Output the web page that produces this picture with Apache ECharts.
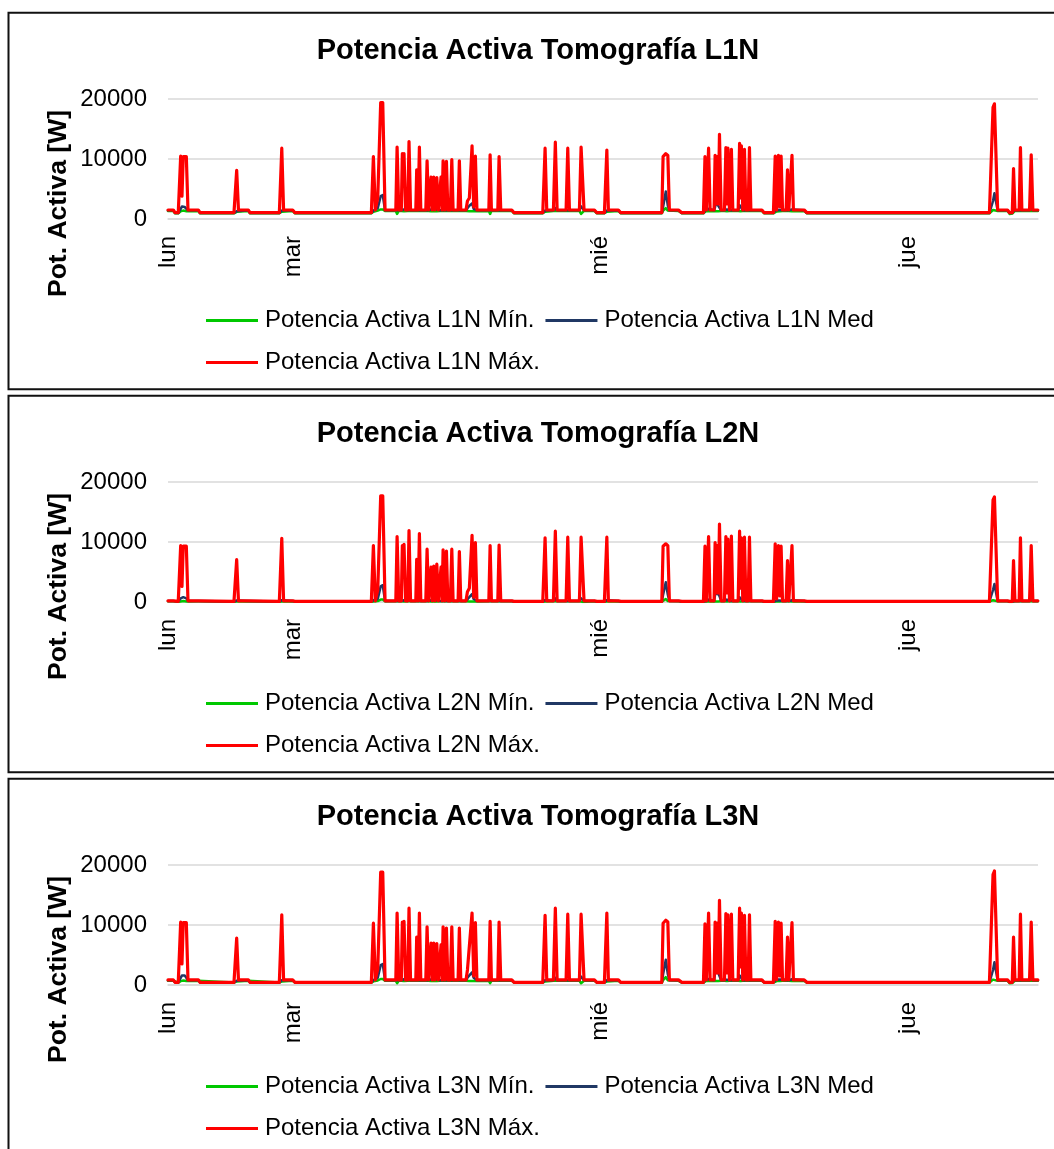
<!DOCTYPE html>
<html>
<head>
<meta charset="utf-8">
<script src="https://cdn.jsdelivr.net/npm/echarts@6/dist/echarts.min.js"></script>
<style>
  html, body { margin: 0; padding: 0; background: #fff; }
  #chart { width: 1054px; height: 1149px; }
</style>
</head>
<body>
<div id="chart"></div>
<script>
// Sample times, in hours counted from Monday 00:00 (shared by every series)
const times = [
  14.25, 14.66, 14.80, 15.05, 15.24, 15.34, 15.44, 15.55, 15.68, 15.81,
  16.62, 16.75, 19.40, 19.61, 19.75, 20.52, 20.65, 22.94, 23.13, 23.27,
  23.98, 24.16, 30.12, 30.28, 30.43, 30.62, 30.85, 31.01, 31.19, 32.03,
  32.13, 32.26, 32.46, 32.54, 32.61, 32.67, 32.79, 32.96, 33.06, 33.18,
  33.59, 33.66, 33.77, 33.87, 33.98, 34.37, 34.47, 34.59, 34.70, 34.78,
  34.88, 34.99, 35.09, 35.23, 35.35, 35.48, 35.56, 35.64, 35.72, 35.85,
  35.98, 36.09, 36.29, 36.40, 36.50, 36.89, 36.99, 37.10, 37.51, 37.62,
  37.77, 37.98, 38.11, 38.24, 38.36, 39.29, 39.39, 39.49, 39.99, 40.09,
  40.22, 41.08, 41.26, 41.57, 41.68, 41.81, 42.98, 43.07, 43.17, 43.50,
  43.68, 43.81, 44.33, 44.48, 44.62, 45.32, 45.45, 45.58, 46.36, 46.49,
  46.59, 46.72, 47.53, 47.72, 48.31, 48.50, 48.62, 49.40, 49.59, 52.79,
  52.89, 53.10, 53.26, 53.38, 54.09, 54.35, 56.04, 56.16, 56.27, 56.44,
  56.56, 56.87, 56.95, 57.03, 57.11, 57.20, 57.29, 57.42, 57.68, 57.79,
  57.87, 57.95, 58.07, 58.12, 58.22, 58.33, 58.75, 58.86, 58.93, 59.00,
  59.11, 59.16, 59.24, 59.35, 59.53, 59.63, 59.74, 60.60, 60.78, 61.50,
  61.64, 61.75, 61.89, 62.00, 62.10, 62.21, 62.49, 62.60, 62.70, 62.83,
  62.95, 63.06, 63.90, 64.11, 78.36, 78.64, 78.75, 79.00, 79.77, 79.93,
  80.14, 80.24, 80.35, 80.68, 80.78, 80.89, 81.49, 81.62, 81.75, 82.14
];

// Day labels on the time axis
const dayTicks = [14.25, 24, 48, 72];
const dayLabels = ['lun', 'mar', 'mié', 'jue'];
const timeRange = [14.25, 82.15];

// Power axis [W]
const powerMax = 20000;
const powerStep = 10000;

// ---- Phase L1N ----
const maxL1N = [
  1500, 1500, 1050, 1050, 10500, 3800, 10400, 10200, 10400, 1500,
  1500, 1050, 1050, 8100, 1500, 1500, 1050, 1050, 11800, 1500,
  1500, 1050, 1050, 10400, 1500, 3500, 19400, 19400, 1500, 1500,
  12000, 1500, 1500, 10900, 8000, 10900, 1500, 1500, 12900, 1500,
  1500, 8200, 1500, 12000, 1500, 1500, 9700, 1500, 1500, 7000,
  1500, 7000, 1500, 6900, 1500, 1500, 7000, 1500, 9700, 1500,
  9600, 1500, 1500, 9900, 1500, 1500, 9700, 1500, 1500, 3000,
  3500, 12200, 2000, 10500, 1500, 1500, 10700, 1500, 1500, 10400,
  1500, 1500, 1050, 1050, 1050, 1050, 1050, 1050, 1050, 1050,
  11800, 1500, 1500, 12800, 1500, 1500, 11800, 1500, 1500, 12000,
  12000, 1500, 1500, 1050, 1050, 11500, 1500, 1500, 1050, 1050,
  10400, 10900, 10600, 1500, 1500, 1050, 1050, 10400, 1500, 11800,
  1500, 1500, 10600, 2500, 10400, 2500, 14100, 1500, 1500, 11900,
  2500, 11800, 1500, 1500, 11600, 1500, 1500, 12600, 3500, 12200,
  1500, 1500, 11600, 1500, 1500, 11900, 1500, 1500, 1050, 1050,
  10500, 1500, 10600, 2000, 10500, 1500, 1500, 8200, 1500, 1500,
  10600, 1500, 1500, 1050, 1050, 18600, 19200, 1500, 1500, 1050,
  1050, 8400, 1500, 1500, 11900, 1500, 1500, 10700, 1500, 1500
];
const medL1N = [
  1450, 1450, 1000, 1000, 1700, 2100, 2100, 2000, 1700, 1450,
  1450, 1000, 1000, 1300, 1450, 1450, 1000, 1000, 1400, 1450,
  1450, 1000, 1000, 1400, 1450, 1800, 3800, 4000, 1450, 1450,
  1600, 1450, 1450, 1600, 1500, 1600, 1450, 1450, 2200, 1450,
  1450, 1500, 1450, 1600, 1450, 1450, 1600, 1450, 1450, 1600,
  1450, 1600, 1450, 1600, 1450, 1450, 1600, 1450, 1600, 1450,
  1600, 1450, 1450, 1600, 1450, 1450, 1600, 1450, 1450, 1800,
  2200, 2600, 1700, 1700, 1450, 1450, 1600, 1450, 1450, 1600,
  1450, 1450, 1000, 1000, 1000, 1000, 1000, 1000, 1000, 1000,
  1400, 1450, 1450, 1800, 1450, 1450, 1600, 1450, 1450, 2100,
  2100, 1450, 1450, 1000, 1000, 1400, 1450, 1450, 1000, 1000,
  2000, 4600, 2200, 1450, 1450, 1000, 1000, 1400, 1450, 1700,
  1450, 1450, 2000, 2900, 2900, 2200, 2000, 1450, 1450, 1700,
  1600, 1700, 1450, 1450, 1600, 1450, 1450, 2300, 2500, 2300,
  1450, 1450, 1600, 1450, 1450, 1600, 1450, 1450, 1000, 1000,
  1400, 1300, 1500, 1400, 1500, 1450, 1450, 1500, 1450, 1450,
  1600, 1450, 1450, 1000, 1000, 3000, 4300, 1450, 1450, 1000,
  1000, 1400, 1450, 1450, 1600, 1450, 1450, 2200, 1450, 1450
];
const minL1N = [
  1350, 1350, 950, 950, 1300, 1400, 1400, 1400, 1300, 1350,
  1350, 950, 950, 1200, 1350, 1350, 950, 950, 1200, 1350,
  1350, 950, 950, 1200, 1350, 1400, 1600, 1600, 1350, 1350,
  850, 1350, 1350, 1300, 1300, 1300, 1350, 1350, 1300, 1350,
  1350, 1300, 1350, 1300, 1350, 1350, 1300, 1350, 1350, 1300,
  1350, 1300, 1350, 1300, 1350, 1350, 1300, 1350, 1300, 1350,
  1300, 1350, 1350, 1300, 1350, 1350, 1300, 1350, 1350, 1300,
  1300, 1300, 1300, 1300, 1350, 1350, 850, 1350, 1350, 1300,
  1350, 1350, 950, 950, 950, 950, 950, 950, 950, 950,
  1200, 1350, 1350, 1300, 1350, 1350, 1300, 1350, 1350, 850,
  900, 1350, 1350, 950, 950, 1200, 1350, 1350, 950, 950,
  1400, 1800, 1400, 1350, 1350, 950, 950, 1200, 1350, 1300,
  1350, 1350, 1300, 1300, 1300, 1300, 1300, 1350, 1350, 1300,
  1300, 1300, 1350, 1350, 1300, 1350, 1350, 1300, 1300, 1300,
  1350, 1350, 1300, 1350, 1350, 1300, 1350, 1350, 950, 950,
  1200, 1250, 1300, 1300, 1300, 1350, 1350, 1300, 1350, 1350,
  1300, 1350, 1350, 950, 950, 1500, 1600, 1350, 1350, 850,
  900, 1200, 1350, 1350, 1300, 1350, 1350, 1300, 1350, 1350
];

// ---- Phase L2N ----
const maxL2N = [
  200, 200, 100, 100, 9400, 2600, 9300, 9200, 9300, 200,
  200, 100, 100, 7050, 200, 200, 100, 100, 10600, 200,
  200, 100, 100, 9400, 200, 2000, 17700, 17700, 200, 200,
  10900, 200, 200, 9400, 7000, 9600, 200, 200, 11900, 200,
  200, 7100, 200, 11400, 200, 200, 8800, 200, 200, 5800,
  200, 6000, 200, 6300, 200, 200, 5800, 200, 8700, 200,
  8500, 200, 200, 8800, 200, 200, 8400, 200, 200, 1700,
  2300, 11100, 800, 9900, 200, 200, 9400, 200, 200, 9500,
  200, 200, 100, 100, 400, 100, 100, 300, 100, 100,
  10700, 200, 200, 11800, 200, 200, 10800, 200, 200, 10800,
  10800, 200, 200, 100, 100, 10800, 200, 200, 100, 100,
  9300, 9700, 9400, 200, 200, 100, 100, 9300, 200, 10900,
  200, 200, 9900, 1500, 9400, 1500, 13000, 200, 200, 10900,
  1500, 10500, 200, 200, 11000, 200, 200, 11800, 2300, 10700,
  200, 200, 10800, 200, 200, 10800, 200, 200, 100, 100,
  9700, 500, 9400, 1000, 9300, 200, 200, 6900, 200, 200,
  9400, 200, 200, 100, 100, 17000, 17500, 200, 200, 100,
  100, 6900, 200, 200, 10700, 200, 200, 9400, 200, 200
];
const medL2N = [
  180, 180, 90, 90, 600, 800, 800, 800, 600, 180,
  180, 90, 90, 250, 180, 180, 90, 90, 300, 180,
  180, 90, 90, 300, 180, 500, 2600, 2800, 180, 180,
  300, 180, 180, 300, 250, 300, 180, 180, 1000, 180,
  180, 250, 180, 300, 180, 180, 300, 180, 180, 300,
  180, 300, 180, 300, 180, 180, 300, 180, 300, 180,
  300, 180, 180, 300, 180, 180, 300, 180, 180, 500,
  800, 1300, 500, 500, 180, 180, 300, 180, 180, 300,
  180, 180, 90, 90, 200, 90, 90, 150, 90, 90,
  300, 180, 180, 600, 180, 180, 300, 180, 180, 600,
  600, 180, 180, 90, 90, 300, 180, 180, 90, 90,
  1200, 3300, 1200, 180, 180, 90, 90, 300, 180, 400,
  180, 180, 1200, 1500, 1500, 1200, 1000, 180, 180, 400,
  400, 400, 180, 180, 300, 180, 180, 800, 900, 800,
  180, 180, 300, 180, 180, 300, 180, 180, 90, 90,
  300, 250, 300, 250, 300, 180, 180, 300, 180, 180,
  300, 180, 180, 90, 90, 2000, 3000, 180, 180, 90,
  90, 300, 180, 180, 400, 180, 180, 1500, 180, 180
];
const minL2N = [
  120, 120, 60, 60, 100, 150, 150, 150, 100, 120,
  120, 60, 60, 80, 120, 120, 60, 60, 80, 120,
  120, 60, 60, 80, 120, 150, 400, 400, 120, 120,
  0, 120, 120, 100, 100, 100, 120, 120, 100, 120,
  120, 100, 120, 100, 120, 120, 100, 120, 120, 100,
  120, 100, 120, 100, 120, 120, 100, 120, 100, 120,
  100, 120, 120, 100, 120, 120, 100, 120, 120, 100,
  100, 100, 100, 100, 120, 120, 0, 120, 120, 100,
  120, 120, 60, 60, 60, 60, 60, 60, 60, 60,
  80, 120, 120, 100, 120, 120, 100, 120, 120, 0,
  20, 120, 120, 60, 60, 80, 120, 120, 60, 60,
  150, 500, 150, 120, 120, 60, 60, 80, 120, 100,
  120, 120, 100, 100, 100, 100, 100, 120, 120, 100,
  100, 100, 120, 120, 100, 120, 120, 100, 100, 100,
  120, 120, 100, 120, 120, 100, 120, 120, 60, 60,
  80, 80, 100, 100, 100, 120, 120, 100, 120, 120,
  100, 120, 120, 60, 60, 300, 400, 120, 120, 0,
  20, 80, 120, 120, 100, 120, 120, 100, 120, 120
];

// ---- Phase L3N ----
const maxL3N = [
  850, 850, 450, 450, 10500, 3500, 10400, 10300, 10400, 850,
  850, 450, 450, 7800, 850, 850, 450, 450, 11700, 850,
  850, 450, 450, 10300, 850, 2700, 18800, 18800, 850, 850,
  12000, 850, 850, 10500, 8000, 10600, 850, 850, 12800, 850,
  850, 8000, 850, 12000, 850, 850, 9700, 850, 850, 7000,
  850, 7000, 850, 6900, 850, 850, 6700, 850, 9700, 850,
  9500, 850, 850, 9700, 850, 850, 9500, 850, 850, 2500,
  2800, 12000, 1500, 10400, 850, 850, 10600, 850, 850, 10500,
  850, 850, 450, 450, 600, 450, 450, 550, 450, 450,
  11600, 850, 850, 12800, 850, 850, 11800, 850, 850, 11800,
  11800, 850, 850, 450, 450, 12000, 850, 850, 450, 450,
  10300, 10800, 10500, 850, 850, 450, 450, 10200, 850, 12000,
  850, 850, 10500, 2000, 10300, 2000, 14100, 850, 850, 11900,
  2000, 11700, 850, 850, 11800, 850, 850, 12800, 3000, 12000,
  850, 850, 11600, 850, 850, 11700, 850, 850, 450, 450,
  10600, 900, 10500, 1500, 10300, 850, 850, 8000, 850, 850,
  10400, 850, 850, 450, 450, 18400, 19000, 850, 850, 450,
  450, 8000, 850, 850, 11800, 850, 850, 10500, 850, 850
];
const medL3N = [
  800, 800, 420, 420, 1200, 1600, 1600, 1600, 1200, 800,
  800, 420, 420, 700, 800, 800, 420, 420, 800, 800,
  800, 420, 420, 800, 800, 1200, 3300, 3500, 800, 800,
  950, 800, 800, 950, 900, 950, 800, 800, 1600, 800,
  800, 900, 800, 950, 800, 800, 950, 800, 800, 950,
  800, 950, 800, 950, 800, 800, 950, 800, 950, 800,
  950, 800, 800, 950, 800, 800, 950, 800, 800, 1200,
  1600, 2100, 1200, 1200, 800, 800, 950, 800, 800, 950,
  800, 800, 420, 420, 500, 420, 420, 480, 420, 420,
  800, 800, 800, 1200, 800, 800, 950, 800, 800, 1400,
  1400, 800, 800, 420, 420, 800, 800, 800, 420, 420,
  1800, 4200, 1800, 800, 800, 420, 420, 800, 800, 1000,
  800, 800, 2000, 2400, 2400, 2000, 1800, 800, 800, 1000,
  900, 1000, 800, 800, 950, 800, 800, 1600, 1600, 1600,
  800, 800, 950, 800, 800, 950, 800, 800, 420, 420,
  800, 750, 900, 800, 900, 800, 800, 900, 800, 800,
  950, 800, 800, 420, 420, 2500, 3800, 800, 800, 420,
  420, 800, 800, 800, 1100, 800, 800, 2100, 800, 800
];
const minL3N = [
  700, 700, 400, 400, 650, 750, 750, 750, 650, 700,
  700, 400, 400, 600, 700, 700, 400, 400, 600, 700,
  700, 400, 400, 600, 700, 750, 1000, 1000, 700, 700,
  300, 700, 700, 650, 650, 650, 700, 700, 650, 700,
  700, 650, 700, 650, 700, 700, 650, 700, 700, 650,
  700, 650, 700, 650, 700, 700, 650, 700, 650, 700,
  650, 700, 700, 650, 700, 700, 650, 700, 700, 650,
  650, 650, 650, 650, 700, 700, 300, 700, 700, 650,
  700, 700, 400, 400, 400, 400, 400, 400, 400, 400,
  600, 700, 700, 650, 700, 700, 650, 700, 700, 300,
  350, 700, 700, 400, 400, 600, 700, 700, 400, 400,
  800, 1300, 800, 700, 700, 400, 400, 600, 700, 650,
  700, 700, 650, 650, 650, 650, 650, 700, 700, 650,
  650, 650, 700, 700, 650, 700, 700, 650, 650, 650,
  700, 700, 650, 700, 700, 650, 700, 700, 400, 400,
  600, 650, 650, 650, 650, 700, 700, 650, 700, 700,
  650, 700, 700, 400, 400, 900, 1000, 700, 700, 300,
  350, 600, 700, 700, 650, 700, 700, 650, 700, 700
];

const phases = [
  { id: 'L1N', min: minL1N, med: medL1N, max: maxL1N },
  { id: 'L2N', min: minL2N, med: medL2N, max: maxL2N },
  { id: 'L3N', min: minL3N, med: medL3N, max: maxL3N }
];

const FONT = '"Liberation Sans", Arial, Helvetica, sans-serif';
const STEP = 383;            // vertical distance between stacked panels
const GRID_LINE = '#d9d9d9';
const COLORS = { min: '#00c800', med: '#203864', max: '#ff0000' };

function toPairs(values) {
  return times.map((t, i) => [t, values[i]]);
}

const option = {
  animation: false,
  backgroundColor: '#ffffff',
  title: [], grid: [], xAxis: [], yAxis: [], legend: [], series: [], graphic: []
};

phases.forEach((ph, p) => {
  const o = STEP * p;
  const names = {
    min: 'Potencia Activa ' + ph.id + ' Mín.',
    med: 'Potencia Activa ' + ph.id + ' Med',
    max: 'Potencia Activa ' + ph.id + ' Máx.'
  };

  // panel frame
  option.graphic.push({
    type: 'rect', silent: true, z: 100,
    shape: { x: 8.5, y: 12.7 + o, width: 1100, height: 376.6 },
    style: { fill: 'none', stroke: '#111', lineWidth: 2 }
  });

  option.title.push({
    text: 'Potencia Activa Tomografía ' + ph.id,
    left: 538, top: 36 + o, textAlign: 'center', padding: 0,
    textStyle: { fontFamily: FONT, fontSize: 29, fontWeight: 'bold', color: '#000' }
  });

  option.grid.push({ left: 168, width: 870, top: 99 + o, height: 120, containLabel: false });

  option.xAxis.push({
    type: 'value', gridIndex: p,
    min: timeRange[0], max: timeRange[1],
    axisLine: { show: true, lineStyle: { color: GRID_LINE, width: 1.5 } },
    axisTick: { show: false },
    splitLine: { show: false },
    axisLabel: {
      customValues: dayTicks,
      showMinLabel: true,
      formatter: v => dayLabels[dayTicks.indexOf(v)],
      rotate: 90, margin: 17,
      fontFamily: FONT, fontSize: 24, color: '#000'
    }
  });

  option.yAxis.push({
    type: 'value', gridIndex: p,
    min: 0, max: powerMax, interval: powerStep,
    axisLine: { show: false },
    axisTick: { show: false },
    splitLine: { show: true, lineStyle: { color: GRID_LINE, width: 1.5 } },
    axisLabel: {
      fontFamily: FONT, fontSize: 24, color: '#000', margin: 21,
      formatter: v => String(v)
    },
    name: 'Pot. Activa [W]',
    nameLocation: 'middle', nameRotate: 90, nameGap: 96,
    nameMoveOverlap: false,
    nameTextStyle: {
      fontFamily: FONT, fontSize: 26.5, fontWeight: 'bold', color: '#000',
      padding: [0, 89, 0, 0]
    }
  });

  option.legend.push({
    data: [names.min, names.med, names.max],
    left: 206, top: 305 + o, width: 700, padding: 0,
    orient: 'horizontal',
    icon: 'rect', itemWidth: 52, itemHeight: 3, itemGap: 11,
    selectedMode: false,
    textStyle: { fontFamily: FONT, fontSize: 24, color: '#000', lineHeight: 31, padding: [0, 0, 0, 2] }
  });

  [['min', 2.5], ['med', 2.5], ['max', 3.2]].forEach(([key, width]) => {
    option.series.push({
      type: 'line', name: names[key],
      xAxisIndex: p, yAxisIndex: p,
      data: toPairs(ph[key]),
      color: COLORS[key],
      showSymbol: false, symbol: 'none',
      silent: true,
      lineStyle: { color: COLORS[key], width: width, join: 'round', cap: 'round' }
    });
  });
});

const chart = echarts.init(document.getElementById('chart'), null, { renderer: 'canvas' });
chart.setOption(option);
</script>
</body>
</html>
